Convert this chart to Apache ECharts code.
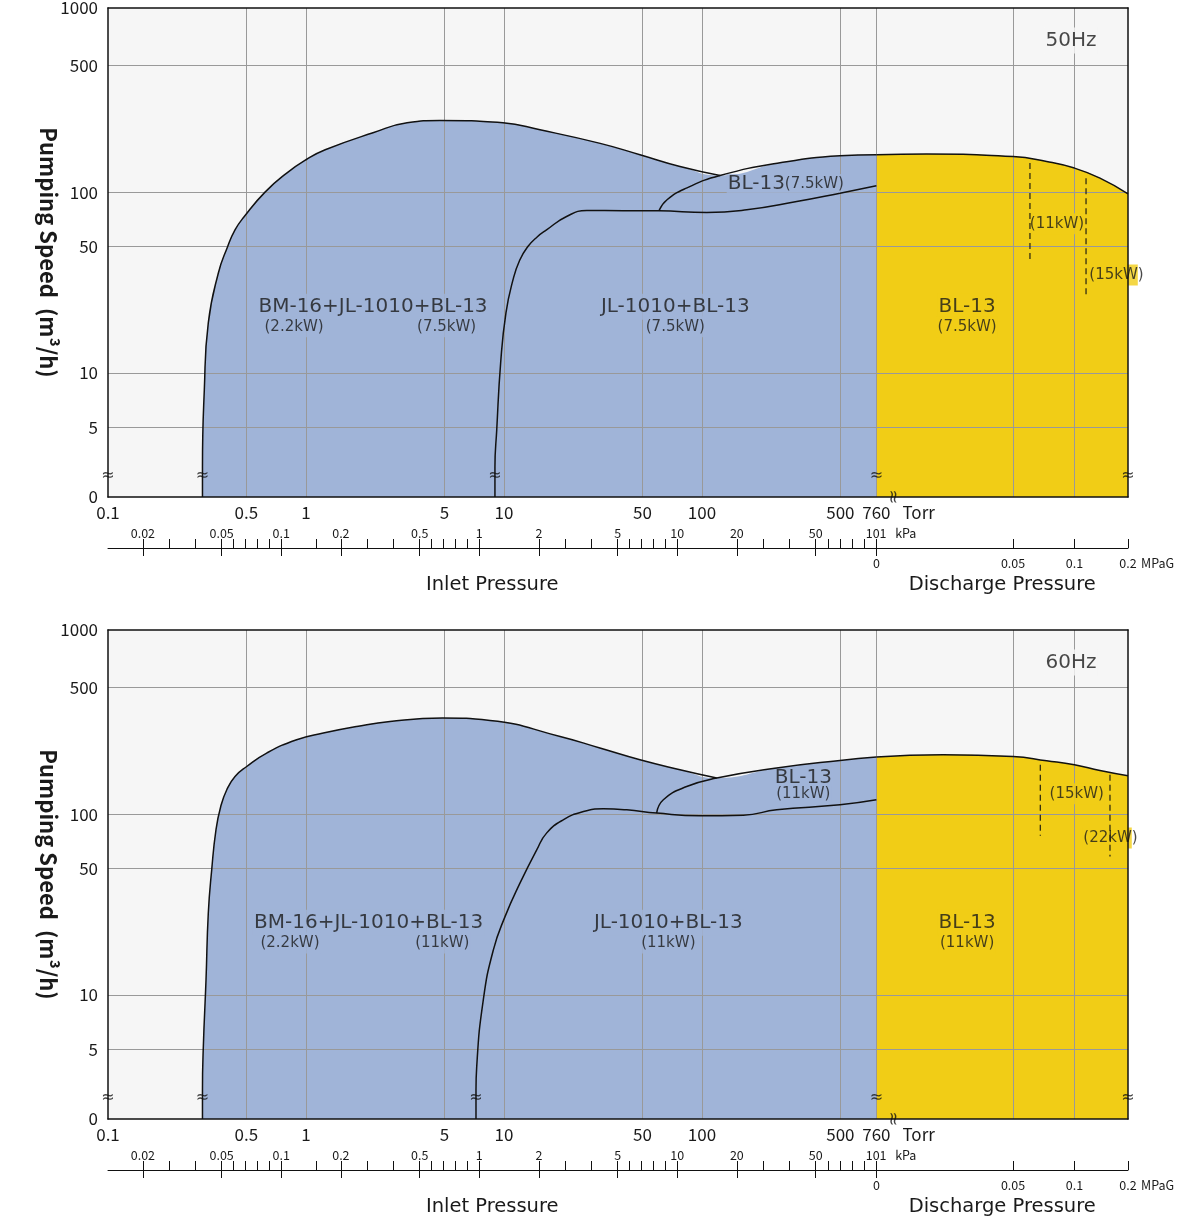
<!DOCTYPE html>
<html><head><meta charset="utf-8">
<script src="https://cdn.jsdelivr.net/npm/echarts@6/dist/echarts.min.js"></script>
<style>html,body{margin:0;padding:0;background:#fff}#c{width:1180px;height:1224px}</style>
</head><body><div id="c"></div>
<script>
// ---------- tick labels / grid values ----------
const TORR_LABELS = [0.1, 0.5, 1, 5, 10, 50, 100, 500, 760];
const TORR_GRID = [0.5, 1, 5, 10, 50, 100, 500, 760];
const KPA_MAJOR = [0.02, 0.05, 0.1, 0.2, 0.5, 1, 2, 5, 10, 20, 50, 101];
const KPA_MINOR_DIVS = [3, 5, 1, 3, 5, 1, 3, 5, 1, 3, 5];
const KPA_EXTRA_MINOR = [0.15];
const MPAG_TICKS = [0, 0.05, 0.1, 0.2];
const MPAG_GRID = [0.05, 0.1];
const Y_LABELS = [0, 5, 10, 50, 100, 500, 1000];
const Y_GRID = [5, 10, 50, 100, 500];
const AXIS_TITLES = ['Inlet Pressure', 'Discharge Pressure'];
const UNITS = ['Torr', 'kPa', 'MPaG'];

// ---------- 50 Hz curves: [Torr, m3/h] ----------
const BM_50 = [[0.30,0],[0.30,3],[0.3065,8.05],[0.321,18.9],[0.3606,35.6],[0.4004,49.4],[0.438,61.8],[0.488,73.3],[0.621,100],[0.799,127.4],[1.0,151],[1.25,171.5],[2.18,212.9],[3.24,241.8],[4.75,249],[9.88,241.8],[15.2,221],[30.6,186],[48.6,161],[77.4,138.6],[123.3,123.6]];
const JL_50 = [[9.0,0],[9.0,3],[9.19,4.84],[9.62,11.4],[10.23,21.5],[11.1,32.7],[12.0,42],[13.2,50.0],[14.7,56.5],[16.4,61.8],[20.7,73.3],[26.2,79.1],[40,79],[60.6,78.8],[105.6,77.1],[168.2,79.8],[300.8,88.7],[497.7,98.7],[760,108.4]];
const LOBE_50 = [[60.6,78.8],[66.6,90.7],[84.0,105.6],[123.3,123.6],[247.7,145.3],[497.7,158.8],[760,161]];
// discharge side: [MPaG, m3/h]
const DISCH_50 = [[0,161],[0.0184,162.3],[0.05,157.4],[0.0774,147.7],[0.1,135.8],[0.1477,119.5],[0.2,97.9]];
// dashed power limits: [MPaG, from m3/h, to m3/h]
const DASH_50 = [[0.0638,144.7,40.5],[0.1217,119.5,26.1]];

// ---------- 60 Hz curves ----------
const BM_60 = [[0.30,0],[0.30,3],[0.303,5.17],[0.3126,12.1],[0.321,28.3],[0.334,49.2],[0.351,81.9],[0.371,110.2],[0.398,136.3],[0.438,161.5],[0.502,183.4],[0.633,217.6],[0.897,257.8],[1.223,280.7],[1.804,305.3],[2.656,325.5],[4.88,339.9],[8.5,329.6],[19.2,268.8],[30.5,232],[48.6,199.8],[77.4,176],[118.7,158.2]];
const JL_60 = [[7.22,0],[7.22,3],[7.28,4.0],[7.86,9.4],[8.83,17.7],[10.12,27.1],[12.04,41.5],[14.63,63.4],[16.4,78.5],[19.9,93.0],[25.2,103.4],[31.7,107],[41.7,105.6],[59.0,101.3],[97.7,97.9],[161.7,98.7],[238.4,105.6],[497.7,112.6],[760,120]];
const LOBE_60 = [[59.0,101.3],[63.8,120.0],[83.7,142.1],[118.7,158.2],[238.4,179.8],[497.7,198.0],[760,206.8]];
const DISCH_60 = [[0,206.8],[0.0244,212.9],[0.05,208.4],[0.0774,197.2],[0.1,187.4],[0.1477,174.3],[0.2,162.9]];
const DASH_60 = [[0.0722,187.4,75.9],[0.1664,165.0,58.3]];

// ---------- annotations: [text, T(orr)|M(PaG), x, m3/h, size, bg, tight] ----------
const ANN_50 = [
  ['BM-16+JL-1010+BL-13','T',2.18,23.2,20,'b'],
  ['(2.2kW)','T',0.87,18.0,15,'b'],
  ['(7.5kW)','T',5.13,18.0,15,'b'],
  ['JL-1010+BL-13','T',73.3,23.2,20,'b'],
  ['(7.5kW)','T',73.3,18.0,15,'b'],
  ['{a|BL-13}{s|(7.5kW)}','T',265,111,20,'b',1],
  ['BL-13','M',0.0332,23.2,20,'y'],
  ['(7.5kW)','M',0.0332,18.0,15,'y'],
  ['(11kW)','M',0.0858,66.8,15,'y'],
  ['{y|(15kW}{n|)}','M',0.1776,34.8,15,'-'],
  ['50Hz','M',0.0972,690,20,'g']
];
const ANN_60 = [
  ['BM-16+JL-1010+BL-13','T',2.07,25.1,20,'b'],
  ['(2.2kW)','T',0.83,19.4,15,'b'],
  ['(11kW)','T',4.88,19.4,15,'b'],
  ['JL-1010+BL-13','T',67.6,25.1,20,'b'],
  ['(11kW)','T',67.6,19.4,15,'b'],
  ['BL-13','T',324.8,159,20,'b',1],
  ['(11kW)','T',324.8,129,15,'b',1],
  ['BL-13','M',0.0332,25.1,20,'y'],
  ['(11kW)','M',0.0332,19.4,15,'y'],
  ['(15kW)','M',0.1043,129.5,15,'y'],
  ['{y|(22kW}{n|)}','M',0.1664,73.7,15,'-'],
  ['60Hz','M',0.0972,690,20,'g']
];

// ---------- scale definitions ----------
const TORR_PER_KPA = 7.50062;
const U760 = Math.log10(760);
const MPAG_SCALE_DECADES = [0, 0.69, 1.0, 1.2707]; // discharge scale knots for MPAG_TICKS
const Y_ZERO_LOG = 0.3138;   // position of "0" on the broken log axis
const Y_TOP_LOG = 3.0183;    // top edge, labelled 1000
const BREAK_V = 2.7;         // where the axis break marks sit

function xT(t){ return Math.log10(t); }
function xK(k){ return Math.log10(k * TORR_PER_KPA); }
function xM(m){
  for (let i = 0; i < MPAG_TICKS.length - 1; i++) {
    const a = MPAG_TICKS[i], b = MPAG_TICKS[i+1];
    if (m <= b || i === MPAG_TICKS.length - 2) {
      const f = (m - a) / (b - a);
      return U760 + MPAG_SCALE_DECADES[i] + f * (MPAG_SCALE_DECADES[i+1] - MPAG_SCALE_DECADES[i]);
    }
  }
}
function yV(v){ return v <= 0 ? Y_ZERO_LOG : Math.log10(v); }

const X_MIN = xT(TORR_LABELS[0]);
const X_MAX = xM(MPAG_TICKS[MPAG_TICKS.length-1]);

const FONT = "'Noto Sans CJK JP','Noto Sans',sans-serif";
const LFONT = "'DejaVu Sans','Noto Sans',sans-serif";
const TEXT = '#1a1a1a';
const BLUE = '#a0b4d8', YELLOW = '#f1cd16', PLOT_BG = '#f6f6f6', GRID_C = '#999999';
const GRID_LEFT = 108, GRID_W = 1020, GRID_H = 489, GRID_TOPS = [8, 630];

function lookup(pos, texts){
  return function(val){
    let best = 0, bd = Infinity;
    for (let i = 0; i < pos.length; i++) { const d = Math.abs(pos[i] - val); if (d < bd) { bd = d; best = i; } }
    return texts[best];
  };
}

// tick positions
const torrPos = TORR_LABELS.map(xT);
const torrTxt = TORR_LABELS.map(String);
const kpaPos = KPA_MAJOR.map(xK);
const kpaTxt = KPA_MAJOR.map(String);
const kpaMinor = [];
for (let i = 0; i < kpaPos.length - 1; i++) {
  const n = KPA_MINOR_DIVS[i];
  for (let j = 1; j < n; j++) kpaMinor.push(kpaPos[i] + (kpaPos[i+1] - kpaPos[i]) * j / n);
}
KPA_EXTRA_MINOR.forEach(k => kpaMinor.push(xK(k)));
const mpagPos = MPAG_TICKS.map(xM);
const mpagTxt = MPAG_TICKS.map(String);
const titlePos = [(X_MIN + U760) / 2, (U760 + X_MAX) / 2];
const yPos = Y_LABELS.map((v, i) => i === Y_LABELS.length - 1 ? Y_TOP_LOG : yV(v));
const yTxt = Y_LABELS.map(String);
const unitPos = [torrPos[torrPos.length-1], kpaPos[kpaPos.length-1], mpagPos[mpagPos.length-1]];

const PANELS = [
  {bm: BM_50, jl: JL_50, lobe: LOBE_50, disch: DISCH_50, dash: DASH_50, ann: ANN_50},
  {bm: BM_60, jl: JL_60, lobe: LOBE_60, disch: DISCH_60, dash: DASH_60, ann: ANN_60}
];

const grids = [], xAxes = [], yAxes = [], series = [];
const hidden = {show: false};
const blackLine = (w) => ({show: true, onZero: false, lineStyle: {color: '#111', width: w}});
const SMOOTH = 0.5;

PANELS.forEach((p, gi) => {
  grids.push({left: GRID_LEFT, top: GRID_TOPS[gi], width: GRID_W, height: GRID_H, show: true,
    backgroundColor: PLOT_BG, borderWidth: 0, containLabel: false, outerBoundsMode: 'none'});
  const xi = xAxes.length, yi = yAxes.length;
  const base = {gridIndex: gi, type: 'value', min: X_MIN, max: X_MAX, splitLine: hidden, z: 10};
  const unitAxis = (idx, off, size, pad, margin, inside) => Object.assign({}, base, {position: 'bottom', offset: off,
    axisLine: hidden, axisTick: hidden,
    axisLabel: {customValues: [unitPos[idx]], formatter: '{u|' + UNITS[idx] + '}', align: 'left', inside: inside,
      margin: margin, hideOverlap: false, color: TEXT, fontSize: size, fontFamily: FONT,
      rich: {u: {color: TEXT, fontSize: size, fontFamily: FONT, padding: [0, 0, 0, pad]}}}});
  // 0: Torr axis
  xAxes.push(Object.assign({}, base, {position: 'bottom', axisLine: blackLine(1.5), axisTick: hidden,
    axisLabel: {customValues: torrPos, formatter: lookup(torrPos, torrTxt), fontSize: 17, color: TEXT,
      fontFamily: FONT, margin: 7, hideOverlap: false}}));
  // 1: top border
  xAxes.push(Object.assign({}, base, {position: 'top', axisLine: blackLine(1.5), axisTick: hidden, axisLabel: hidden}));
  // 2: kPa axis (labels and ticks above the line)
  xAxes.push(Object.assign({}, base, {position: 'bottom', offset: 51, axisLine: blackLine(1),
    axisTick: {show: true, inside: true, length: 9, customValues: kpaPos.concat(kpaMinor), lineStyle: {color: '#111', width: 1}},
    axisLabel: {inside: true, customValues: kpaPos, formatter: lookup(kpaPos, kpaTxt), fontSize: 12.5, hideOverlap: false,
      color: TEXT, fontFamily: FONT, margin: 9}}));
  // 3: kPa major ticks below the line
  xAxes.push(Object.assign({}, base, {position: 'bottom', offset: 51, axisLine: hidden,
    axisTick: {show: true, inside: false, length: 8, customValues: kpaPos, lineStyle: {color: '#111', width: 1}},
    axisLabel: hidden}));
  // 4: MPaG axis
  xAxes.push(Object.assign({}, base, {position: 'bottom', offset: 51, axisLine: hidden,
    axisTick: {show: true, inside: true, length: 9, customValues: mpagPos, lineStyle: {color: '#111', width: 1}},
    axisLabel: {customValues: mpagPos, formatter: lookup(mpagPos, mpagTxt), fontSize: 12.5, color: TEXT, hideOverlap: false,
      fontFamily: FONT, margin: 9}}));
  // 5: pressure titles
  xAxes.push(Object.assign({}, base, {position: 'bottom', offset: 51, axisLine: hidden, axisTick: hidden,
    axisLabel: {customValues: titlePos, formatter: lookup(titlePos, AXIS_TITLES), fontSize: 19.5, color: TEXT,
      fontFamily: LFONT, margin: 27, hideOverlap: false}}));
  // 6-8: unit names
  xAxes.push(unitAxis(0, 0, 17, 26, 7, false));
  xAxes.push(unitAxis(1, 51, 12.5, 19, 9, true));
  xAxes.push(unitAxis(2, 51, 12.5, 13, 9, false));

  yAxes.push({gridIndex: gi, type: 'value', min: Y_ZERO_LOG, max: Y_TOP_LOG, position: 'left', z: 10,
    axisLine: blackLine(1.5), axisTick: hidden, splitLine: hidden,
    axisLabel: {customValues: yPos, formatter: lookup(yPos, yTxt), fontSize: 17, color: TEXT, fontFamily: FONT, margin: 10, hideOverlap: false},
    name: 'Pumping Speed  (m³/h)', nameLocation: 'middle', nameRotate: -90, nameGap: 49, nameMoveOverlap: false,
    nameTextStyle: {fontSize: 22, fontWeight: 'bold', color: TEXT, fontFamily: FONT}});
  yAxes.push({gridIndex: gi, type: 'value', min: Y_ZERO_LOG, max: Y_TOP_LOG, position: 'right', z: 10,
    axisLine: blackLine(1.5), axisTick: hidden, splitLine: hidden, axisLabel: hidden});

  const common = {xAxisIndex: xi, yAxisIndex: yi, animation: false, silent: true, symbol: 'none'};
  const tx = (arr) => arr.map(d => [xT(d[0]), yV(d[1])]);
  const mx = (arr) => arr.map(d => [xM(d[0]), yV(d[1])]);
  const lastBm = p.bm[p.bm.length-1][0];
  const envelope = p.bm.concat(p.lobe.filter(d => d[0] > lastBm));

  series.push(Object.assign({}, common, {type: 'line', z: 1, smooth: SMOOTH, data: tx(envelope),
    lineStyle: {width: 0}, areaStyle: {color: BLUE, opacity: 1, origin: 'start'}}));
  series.push(Object.assign({}, common, {type: 'line', z: 1, smooth: SMOOTH, data: mx(p.disch),
    lineStyle: {width: 0}, areaStyle: {color: YELLOW, opacity: 1, origin: 'start'}}));
  // gridlines above fills
  series.push(Object.assign({}, common, {type: 'line', z: 2, data: [],
    markLine: {z: 2, silent: true, animation: false, symbol: ['none', 'none'], label: {show: false},
      emphasis: {disabled: true}, lineStyle: {color: GRID_C, width: 1, type: 'solid'},
      data: TORR_GRID.map(t => ({xAxis: xT(t)}))
        .concat(MPAG_GRID.map(m => ({xAxis: xM(m)})))
        .concat(Y_GRID.map(v => ({yAxis: yV(v)})))}}));
  // annotations (backgrounds mask gridlines, curves stay above)
  series.push({type: 'scatter', xAxisIndex: xi, yAxisIndex: yi, z: 3, silent: true, animation: false, clip: false,
    symbolSize: 1, itemStyle: {color: 'transparent'},
    data: p.ann.map(a => {
      const x = a[1] === 'T' ? xT(a[2]) : xM(a[2]);
      const bg = a[5] === 'b' ? BLUE : a[5] === 'y' ? YELLOW : a[5] === 'g' ? PLOT_BG : 'transparent';
      const lab = {show: true, position: 'inside', formatter: a[0], fontSize: a[4], color: TEXT, fontFamily: LFONT,
        backgroundColor: bg, padding: a[6] ? [0, 1] : [3, 1],
        rich: {
          a: {fontSize: 20, color: TEXT, fontFamily: LFONT},
          s: {fontSize: 15, color: TEXT, fontFamily: LFONT},
          y: {fontSize: 15, color: TEXT, fontFamily: LFONT, backgroundColor: YELLOW, padding: [3, 0, 3, 1]},
          n: {fontSize: 15, color: TEXT, fontFamily: LFONT}
        }};
      return {value: [x, yV(a[3])], label: lab};
    })});
  // curves
  const curve = {type: 'line', z: 4, smooth: SMOOTH, lineStyle: {color: '#111', width: 1.5}};
  series.push(Object.assign({}, common, curve, {data: tx(p.bm)}));
  series.push(Object.assign({}, common, curve, {data: tx(p.jl)}));
  series.push(Object.assign({}, common, curve, {data: tx(p.lobe)}));
  series.push(Object.assign({}, common, curve, {data: mx(p.disch)}));
  p.dash.forEach(d => {
    series.push(Object.assign({}, common, {type: 'line', z: 4, data: [[xM(d[0]), yV(d[1])], [xM(d[0]), yV(d[2])]],
      lineStyle: {color: '#111', width: 1.1, type: [6, 4]}}));
  });
  // axis break marks
  const brkX = [X_MIN, xT(p.bm[0][0]), xT(p.jl[0][0]), U760, X_MAX];
  const brkData = brkX.map(x => ({value: [x, yV(BREAK_V)]}));
  brkData.push({value: [U760, Y_ZERO_LOG], label: {rotate: 90, offset: [0, 18], fontSize: 18}});
  series.push({type: 'scatter', xAxisIndex: xi, yAxisIndex: yi, z: 7, silent: true, animation: false, clip: false,
    symbolSize: 1, itemStyle: {color: 'transparent'}, data: brkData,
    label: {show: true, position: 'inside', formatter: '≈', fontSize: 16, color: '#111', fontFamily: 'DejaVu Sans'}});
});

const chart = echarts.init(document.getElementById('c'), null, {renderer: 'canvas'});
chart.setOption({animation: false, backgroundColor: '#ffffff', grid: grids, xAxis: xAxes, yAxis: yAxes, series: series});
</script>
</body></html>
